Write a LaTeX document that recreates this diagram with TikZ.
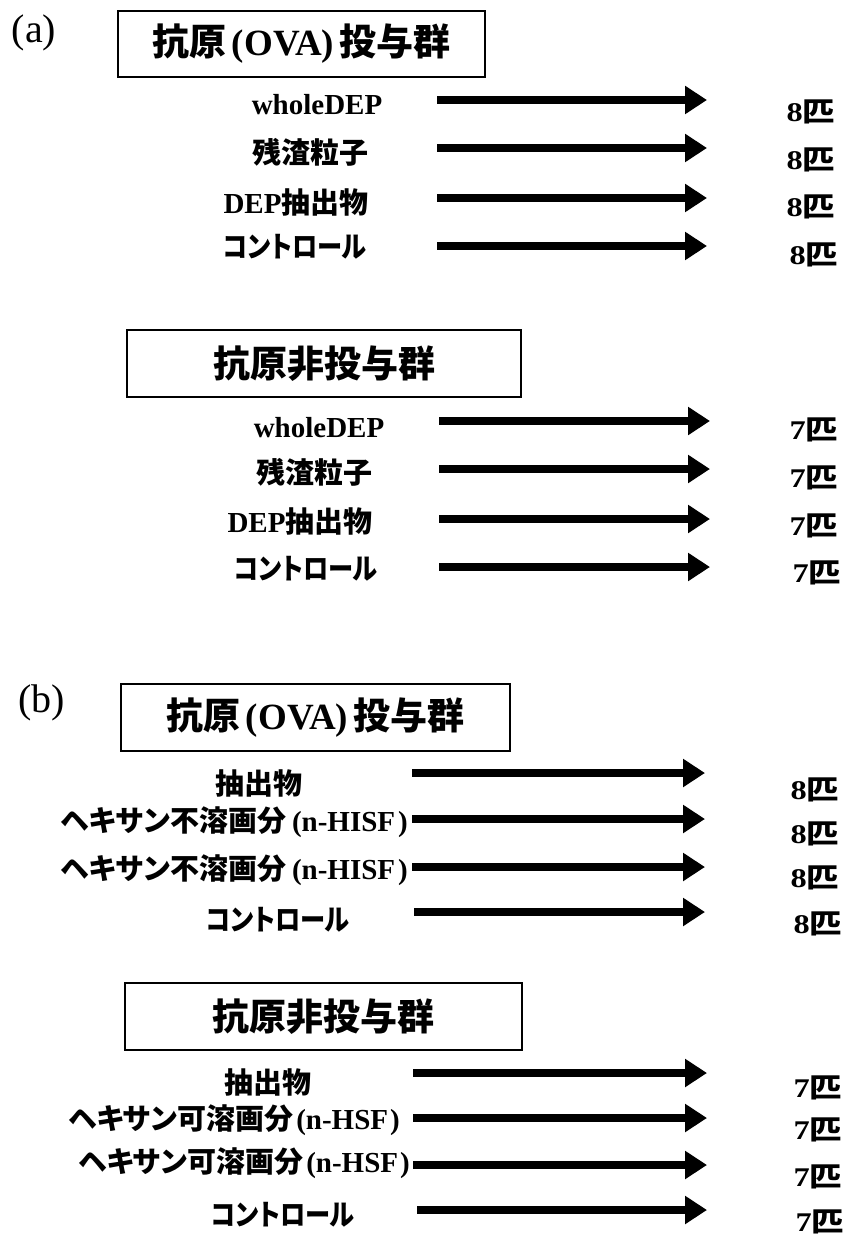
\documentclass[tikz,border=0pt]{standalone}
\usepackage{fontspec}
\usepackage{graphicx}
\setmainfont{Liberation Serif}
\newfontfamily\cjk{Noto Sans CJK JP}[RawFeature=+palt]
\usetikzlibrary{arrows.meta}
\newcommand\J[1]{{\cjk\bfseries #1}}
\newcommand\Lt[1]{{\bfseries #1}}
\newcommand\Cnt[1]{\scalebox{1.2}[1]{\Lt{#1}\J{匹}}}
\newcommand\Ctl{\scalebox{0.87}[1]{\J{コントロール}}}
\begin{document}
\begin{tikzpicture}[x=1pt,y=-1pt,
  box/.style={draw, line width=1.2pt, inner sep=0pt, font=\fontsize{37}{40}\selectfont},
  lbl/.style={font=\fontsize{29}{32}\selectfont, inner sep=0pt},
  cnt/.style={font=\fontsize{27}{30}\selectfont, inner sep=0pt},
  arr/.style={line width=8pt, -{Triangle[length=22pt,width=27pt]}},
  tag/.style={font=\fontsize{40}{44}\selectfont, inner sep=0pt}]
\useasboundingbox (0,0) rectangle (848,1241);
\fill[white] (0,0) rectangle (848,1241);
% ---------- (a) ----------
\node[tag] (taga) at (34,33) {(a)};
\node[box, minimum width=367pt, minimum height=66pt] (boxa1) at (301.5,44) {\J{抗原}\hspace{5pt}\Lt{(OVA)}\hspace{5pt}\J{投与群}};
\node[lbl] (a1l1) at (317,105) {\Lt{wholeDEP}};
\node[lbl] (a1l2) at (310,152) {\J{残渣粒子}};
\node[lbl] (a1l3) at (296,202) {\Lt{DEP}\J{抽出物}};
\node[lbl] (a1l4) at (295,247) {\Ctl};
\foreach \n/\ay/\cx/\cy in {1/100/811/112, 2/148/811/160, 3/198/811/207, 4/246/814/255}{
  \coordinate (a1s\n) at (437,\ay);
  \coordinate (a1e\n) at (707,\ay);
  \draw[arr] (a1s\n) -- (a1e\n);
  \node[cnt] (a1c\n) at (\cx,\cy) {\Cnt{8}};
}
\node[box, minimum width=394pt, minimum height=67pt] (boxa2) at (324,363.5) {\J{抗原非投与群}};
\node[lbl] (a2l1) at (319,428) {\Lt{wholeDEP}};
\node[lbl] (a2l2) at (314,472) {\J{残渣粒子}};
\node[lbl] (a2l3) at (300,521) {\Lt{DEP}\J{抽出物}};
\node[lbl] (a2l4) at (306,569) {\Ctl};
\foreach \n/\ay/\cx/\cy in {1/421/814/430, 2/469/814/478, 3/519/814/526, 4/567/817/573}{
  \coordinate (a2s\n) at (439,\ay);
  \coordinate (a2e\n) at (710,\ay);
  \draw[arr] (a2s\n) -- (a2e\n);
  \node[cnt] (a2c\n) at (\cx,\cy) {\Cnt{7}};
}
% ---------- (b) ----------
\node[tag] (tagb) at (42,703) {(b)};
\node[box, minimum width=389pt, minimum height=67pt] (boxb1) at (315.5,717.5) {\J{抗原}\hspace{5pt}\Lt{(OVA)}\hspace{5pt}\J{投与群}};
\node[lbl] (b1l1) at (259,783) {\J{抽出物}};
\node[lbl, anchor=east] (b1l2) at (408,822) {\J{ヘキサン不溶画分}\hspace{6pt}\Lt{(n-HISF\hspace{3pt})}};
\node[lbl, anchor=east] (b1l3) at (408,870) {\J{ヘキサン不溶画分}\hspace{6pt}\Lt{(n-HISF\hspace{3pt})}};
\node[lbl] (b1l4) at (278,920) {\Ctl};
\foreach \n/\ay/\sx/\cx/\cy in {1/773/412/815/790, 2/819/412/815/834, 3/867/412/815/878, 4/912/414/818/924}{
  \coordinate (b1s\n) at (\sx,\ay);
  \coordinate (b1e\n) at (705,\ay);
  \draw[arr] (b1s\n) -- (b1e\n);
  \node[cnt] (b1c\n) at (\cx,\cy) {\Cnt{8}};
}
\node[box, minimum width=397pt, minimum height=67pt] (boxb2) at (323.5,1016.5) {\J{抗原非投与群}};
\node[lbl] (b2l1) at (268,1082) {\J{抽出物}};
\node[lbl, anchor=east] (b2l2) at (400,1120) {\J{ヘキサン可溶画分}\hspace{3pt}\Lt{(n-HSF\hspace{2pt})}};
\node[lbl, anchor=east] (b2l3) at (410,1163) {\J{ヘキサン可溶画分}\hspace{3pt}\Lt{(n-HSF\hspace{2pt})}};
\node[lbl] (b2l4) at (283,1215) {\Ctl};
\foreach \n/\ay/\sx/\cx/\cy in {1/1073/413/818/1088, 2/1118/413/818/1130, 3/1165/413/818/1177, 4/1210/417/820/1222}{
  \coordinate (b2s\n) at (\sx,\ay);
  \coordinate (b2e\n) at (707,\ay);
  \draw[arr] (b2s\n) -- (b2e\n);
  \node[cnt] (b2c\n) at (\cx,\cy) {\Cnt{7}};
}
\end{tikzpicture}
\end{document}
